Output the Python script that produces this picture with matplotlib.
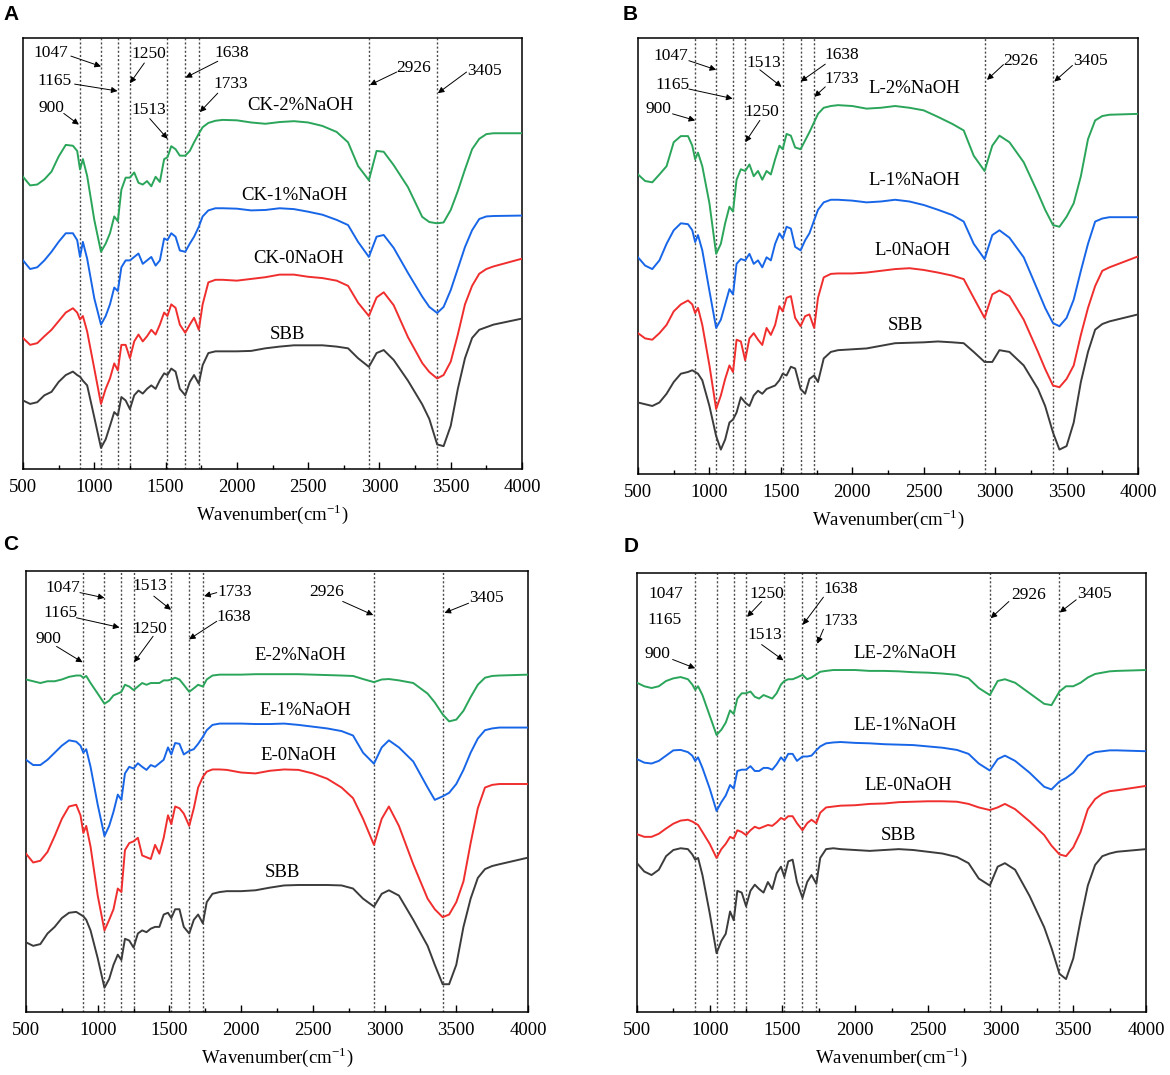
import matplotlib
matplotlib.use('Agg')
import matplotlib.pyplot as plt
from matplotlib.ticker import MultipleLocator

plt.rcParams['font.family'] = ['Liberation Serif', 'DejaVu Serif']
plt.rcParams['mathtext.fontset'] = 'stix'

# shared wavenumber grid (cm-1)
wavenumber = [500, 550, 600, 650, 700, 750, 800, 850, 880, 900,
              920, 950, 1000, 1047, 1080, 1110, 1140, 1165, 1190, 1220,
              1250, 1280, 1310, 1340, 1370, 1400, 1430, 1460, 1490, 1513,
              1540, 1570, 1600, 1638, 1670, 1700, 1733, 1760, 1800, 1850,
              1900, 2000, 2100, 2200, 2300, 2400, 2500, 2600, 2700, 2780,
              2850, 2926, 2980, 3030, 3100, 3200, 3300, 3350, 3405, 3450,
              3500, 3550, 3600, 3650, 3700, 3750, 3800, 4000]

peaks = [900, 1047, 1165, 1250, 1513, 1638, 1733, 2926, 3405]

# ---- panel A (CK)
a_2naoh = [67.8, 65.8, 66.0, 67.2, 69.0, 72.5, 75.2, 75.0, 73.8, 69.5,
           71.9, 68.0, 57.8, 50.4, 52.3, 54.7, 58.6, 57.5, 64.8, 67.6,
           67.6, 68.8, 66.4, 66.0, 66.8, 65.6, 67.8, 66.6, 71.9, 72.3,
           74.9, 74.2, 72.7, 72.7, 73.8, 75.8, 77.8, 79.3, 80.3, 80.8,
           81.0, 80.9, 80.4, 80.1, 80.5, 80.7, 80.4, 79.6, 78.2, 75.8,
           70.3, 67.0, 73.8, 73.6, 70.5, 65.4, 58.5, 57.3, 57.0, 57.2,
           60.1, 64.5, 69.5, 74.2, 76.6, 77.7, 77.9, 77.9]
a_1naoh = [48.4, 46.4, 46.8, 48.4, 50.4, 52.7, 54.7, 54.7, 53.1, 49.2,
           52.7, 48.8, 39.6, 33.5, 35.5, 38.2, 42.1, 41.3, 46.8, 48.4,
           48.4, 49.2, 50.0, 47.6, 48.4, 49.2, 47.2, 48.4, 53.5, 53.1,
           54.7, 53.9, 50.7, 50.4, 52.3, 53.9, 56.2, 58.6, 60.0, 60.5,
           60.5, 60.4, 60.0, 60.1, 60.5, 60.3, 59.7, 59.0, 57.8, 56.6,
           52.7, 49.2, 53.9, 54.3, 51.3, 45.5, 40.0, 37.6, 36.2, 37.6,
           41.5, 46.5, 51.5, 55.4, 58.0, 58.6, 58.7, 58.8]
a_0naoh = [30.4, 28.8, 29.2, 30.8, 32.3, 34.3, 36.3, 37.3, 36.3, 34.7,
           35.5, 31.9, 23.3, 15.1, 18.6, 21.0, 24.5, 22.9, 28.8, 28.8,
           25.7, 29.6, 31.2, 29.6, 30.8, 32.3, 31.2, 33.5, 36.3, 35.5,
           38.2, 37.4, 33.5, 31.6, 33.5, 35.1, 32.3, 38.2, 43.3, 43.9,
           43.9, 43.7, 44.1, 44.5, 45.1, 45.1, 44.6, 44.3, 43.7, 42.5,
           38.6, 35.5, 39.8, 41.0, 38.0, 30.6, 24.6, 22.5, 21.0, 21.8,
           24.9, 31.2, 38.2, 42.5, 45.3, 46.4, 47.0, 48.8]
a_sbb = [15.9, 15.1, 15.5, 17.1, 17.9, 20.2, 21.8, 22.6, 21.8, 21.4,
         20.5, 19.4, 12.0, 4.9, 6.9, 10.0, 13.2, 12.4, 16.7, 15.9,
         13.9, 17.1, 18.2, 17.5, 18.6, 19.4, 18.6, 20.6, 22.2, 21.8,
         23.3, 22.6, 18.6, 17.1, 20.2, 21.8, 19.8, 24.1, 26.9, 27.3,
         27.3, 27.3, 27.4, 28.0, 28.4, 28.7, 28.7, 28.7, 28.4, 28.0,
         25.7, 23.7, 26.9, 27.6, 25.3, 20.5, 15.0, 11.6, 5.7, 5.3,
         10.0, 18.6, 25.7, 30.4, 32.3, 32.9, 33.5, 34.9]

# ---- panel B (L)
b_2naoh = [68.7, 67.2, 66.9, 68.7, 70.6, 76.1, 77.5, 77.5, 75.3, 72.2,
           73.7, 70.6, 62.1, 50.5, 52.8, 57.5, 61.3, 60.2, 67.5, 69.9,
           69.5, 71.0, 68.3, 69.5, 67.5, 69.5, 68.7, 72.2, 75.3, 74.5,
           78.0, 77.6, 74.9, 74.5, 76.5, 78.4, 80.7, 82.6, 84.0, 84.4,
           84.6, 84.4, 83.8, 84.0, 84.4, 84.0, 83.4, 81.9, 80.3, 78.8,
           73.0, 69.5, 75.3, 77.6, 76.1, 71.5, 64.4, 60.6, 57.1, 56.7,
           59.0, 62.1, 68.3, 76.8, 81.1, 82.1, 82.4, 82.6]
b_1naoh = [49.7, 47.8, 47.0, 49.0, 52.8, 55.9, 57.5, 57.3, 55.9, 53.2,
           54.8, 51.3, 42.0, 33.5, 35.4, 38.9, 42.4, 41.2, 48.2, 49.3,
           49.0, 50.5, 48.2, 49.0, 47.4, 49.7, 49.0, 52.8, 55.2, 54.0,
           56.7, 56.3, 52.1, 51.3, 53.6, 55.2, 58.2, 60.6, 62.3, 62.9,
           62.9, 62.7, 62.3, 62.5, 62.9, 62.5, 61.7, 60.6, 59.4, 57.9,
           52.8, 49.3, 54.8, 55.9, 54.2, 49.7, 42.0, 38.1, 34.6, 33.9,
           35.8, 40.0, 46.6, 52.8, 57.9, 58.6, 58.9, 58.9]
b_0naoh = [32.3, 31.1, 30.8, 32.3, 34.2, 37.3, 38.9, 39.8, 38.9, 36.9,
           38.1, 34.2, 24.9, 14.9, 18.0, 21.8, 24.9, 23.4, 30.8, 30.4,
           26.1, 31.1, 32.3, 30.8, 29.6, 33.5, 31.9, 34.2, 38.5, 37.3,
           40.4, 40.8, 35.8, 33.9, 36.2, 36.6, 33.5, 40.4, 45.1, 45.9,
           46.0, 46.0, 46.2, 46.6, 47.0, 47.2, 46.8, 46.2, 45.5, 44.7,
           40.4, 35.8, 41.2, 42.1, 40.8, 35.4, 28.0, 24.1, 20.3, 19.9,
           21.8, 24.9, 31.9, 38.1, 43.1, 46.6, 47.4, 49.9]
b_sbb = [16.4, 16.0, 15.6, 16.4, 18.4, 21.1, 23.0, 23.4, 23.8, 23.4,
         23.0, 21.5, 15.6, 8.7, 5.6, 7.9, 11.8, 12.5, 14.1, 17.6,
         16.4, 15.6, 18.0, 19.1, 18.4, 19.5, 19.9, 20.3, 21.5, 23.0,
         22.6, 24.6, 24.2, 19.5, 18.4, 21.8, 22.6, 21.1, 26.5, 28.0,
         28.4, 28.6, 28.8, 29.4, 30.0, 30.1, 30.2, 30.4, 30.2, 30.0,
         28.0, 25.7, 25.7, 28.4, 28.0, 24.9, 19.5, 15.6, 9.5, 5.6,
         6.4, 11.8, 21.1, 28.0, 33.1, 34.4, 35.0, 36.6]

# ---- panel C (E)
c_2naoh = [75.4, 75.0, 74.6, 75.0, 75.0, 75.4, 76.0, 76.3, 76.3, 75.8,
           76.2, 74.6, 72.2, 69.9, 70.6, 71.8, 72.2, 72.6, 74.2, 73.8,
           73.0, 73.8, 74.6, 74.2, 74.6, 74.6, 74.6, 75.2, 75.2, 75.4,
           75.8, 75.4, 74.2, 72.6, 73.4, 74.2, 73.8, 75.4, 76.3, 76.5,
           76.5, 76.5, 76.6, 76.6, 76.6, 76.6, 76.5, 76.4, 76.3, 76.2,
           75.5, 74.8, 75.4, 75.5, 75.2, 74.6, 72.2, 70.2, 67.5, 65.9,
           66.3, 68.3, 71.4, 74.2, 75.8, 76.2, 76.3, 76.5]
c_1naoh = [57.2, 56.0, 56.0, 57.2, 58.8, 60.4, 61.6, 61.3, 60.4, 58.8,
           59.6, 55.6, 47.0, 39.9, 42.2, 45.4, 49.3, 48.1, 54.1, 55.6,
           55.2, 56.4, 55.6, 54.9, 56.0, 55.6, 56.4, 57.2, 60.0, 58.4,
           61.0, 60.8, 58.4, 59.2, 59.6, 60.8, 62.4, 63.9, 65.1, 65.4,
           65.4, 65.4, 65.3, 65.3, 65.4, 65.1, 64.7, 64.3, 63.7, 62.7,
           58.8, 56.3, 60.0, 61.6, 60.0, 56.8, 50.9, 48.1, 48.9, 49.7,
           51.7, 54.9, 58.8, 62.0, 63.9, 64.3, 64.5, 64.5]
c_0naoh = [35.9, 33.9, 34.3, 36.3, 39.9, 43.8, 46.6, 47.0, 44.6, 40.6,
           42.2, 37.5, 26.4, 18.5, 20.9, 23.3, 28.0, 27.2, 36.7, 38.3,
           38.7, 39.5, 35.5, 35.1, 34.7, 37.9, 35.9, 39.5, 44.6, 42.6,
           46.6, 46.2, 45.0, 42.2, 46.2, 50.9, 53.3, 54.5, 55.0, 55.0,
           54.9, 54.3, 54.1, 54.7, 55.0, 54.9, 54.1, 52.9, 50.9, 48.5,
           43.8, 37.9, 43.8, 46.6, 42.2, 33.5, 25.7, 23.3, 21.5, 22.1,
           24.9, 29.6, 38.3, 46.2, 50.9, 51.5, 51.7, 51.7]
c_sbb = [15.8, 15.0, 15.4, 17.8, 19.3, 21.3, 22.5, 22.7, 22.1, 21.7,
         20.9, 18.5, 12.2, 5.5, 7.5, 10.7, 13.0, 11.8, 16.6, 16.2,
         14.6, 17.8, 18.5, 18.1, 18.9, 19.3, 19.3, 22.1, 22.5, 21.3,
         23.3, 23.3, 19.3, 17.8, 20.9, 22.1, 20.1, 24.9, 26.8, 27.2,
         27.4, 27.4, 27.6, 28.2, 28.7, 28.8, 28.8, 28.8, 28.7, 28.0,
         25.7, 23.9, 26.8, 27.6, 26.4, 20.9, 15.0, 10.7, 6.3, 6.3,
         10.7, 19.3, 25.7, 30.4, 32.4, 33.1, 33.5, 35.0]

# ---- panel D (LE)
d_2naoh = [75.0, 74.2, 73.8, 74.2, 75.4, 76.0, 76.3, 75.8, 74.6, 73.4,
           74.2, 72.2, 67.5, 63.1, 64.3, 65.9, 68.7, 67.9, 71.4, 72.6,
           72.6, 73.0, 71.8, 71.4, 72.2, 71.8, 71.4, 72.6, 74.6, 75.4,
           75.8, 75.8, 76.2, 76.8, 75.8, 76.2, 76.9, 77.5, 77.7, 77.9,
           77.9, 77.9, 77.7, 77.7, 77.6, 77.4, 77.3, 77.1, 76.8, 76.0,
           73.8, 72.2, 75.4, 75.8, 75.0, 72.6, 70.2, 69.9, 73.0, 74.2,
           74.2, 75.0, 76.2, 77.0, 77.3, 77.6, 77.7, 77.9]
d_1naoh = [57.6, 56.8, 56.6, 57.2, 58.4, 59.6, 59.7, 59.2, 58.4, 57.2,
           58.0, 55.6, 50.9, 45.8, 47.8, 49.3, 51.7, 50.9, 54.9, 55.2,
           55.2, 56.0, 54.9, 54.9, 55.6, 55.6, 55.2, 56.4, 58.0, 57.2,
           58.8, 58.8, 57.2, 58.2, 58.2, 58.4, 59.6, 60.5, 61.2, 61.4,
           61.5, 61.3, 61.2, 61.0, 60.9, 60.8, 60.5, 60.2, 59.7, 58.8,
           56.6, 55.0, 57.6, 58.4, 57.2, 54.5, 51.3, 50.7, 52.5, 53.3,
           54.5, 56.4, 58.4, 59.2, 59.4, 59.6, 59.6, 59.4]
d_0naoh = [40.5, 39.9, 39.9, 40.6, 41.8, 42.9, 43.6, 43.8, 43.4, 43.0,
           42.6, 41.0, 38.3, 35.1, 37.1, 38.3, 39.9, 39.5, 41.4, 41.0,
           40.3, 41.4, 42.2, 41.8, 42.2, 42.6, 42.4, 43.2, 44.2, 43.8,
           44.6, 44.6, 43.0, 41.4, 43.0, 43.8, 43.0, 45.4, 46.6, 46.8,
           47.0, 47.1, 47.4, 47.5, 47.8, 47.9, 48.0, 48.0, 47.9, 47.4,
           46.6, 46.0, 46.6, 47.4, 46.2, 43.4, 40.3, 37.9, 35.9, 35.5,
           37.5, 41.0, 46.2, 48.5, 49.7, 50.3, 50.5, 51.5]
d_sbb = [33.9, 32.0, 31.2, 32.4, 35.5, 36.9, 37.3, 37.1, 35.9, 34.7,
         35.1, 31.2, 22.5, 13.4, 16.2, 17.8, 22.9, 20.9, 27.6, 27.2,
         24.1, 27.6, 29.0, 28.0, 27.2, 29.6, 28.0, 31.6, 33.1, 30.8,
         34.3, 34.7, 29.6, 26.0, 29.6, 31.2, 29.2, 35.1, 37.1, 37.3,
         37.1, 36.9, 36.7, 36.9, 37.1, 36.9, 36.5, 36.1, 35.3, 33.9,
         30.4, 28.8, 33.1, 33.9, 32.4, 26.4, 19.3, 14.6, 8.7, 7.5,
         12.2, 20.9, 28.8, 33.5, 35.5, 36.1, 36.5, 37.1]

colors = ['#2aa55a', '#1866e8', '#f02e2e', '#3c3c3c']

# label, text x, text y, arrow (start x, start y, tip x, tip y) or None
notes_a = [('1047', 698, 96.6, (836, 95.8, 1047, 93.4)),
           ('1165', 723, 90.1, (862, 89.3, 1163, 87.7)),
           ('900', 698, 83.8, (786, 82.5, 892, 79.9)),
           ('1250', 1384, 96.3, (1351, 94.2, 1250, 89.5)),
           ('1513', 1384, 83.2, (1389, 81.3, 1514, 76.6)),
           ('1638', 1966, 96.6, (1866, 94.6, 1640, 90.8)),
           ('1733', 1954, 89.3, (1866, 87.2, 1740, 82.8)),
           ('2926', 3242, 93.0, (3121, 92.1, 2933, 89.1)),
           ('3405', 3736, 92.4, (3611, 92.1, 3410, 87.2))]
notes_b = [('1047', 729, 95.8, (856, 94.8, 1047, 92.7)),
           ('1165', 742, 89.2, (856, 88.3, 1162, 86.1)),
           ('900', 640, 83.8, (742, 82.6, 900, 81.1)),
           ('1513', 1378, 94.3, (1353, 92.7, 1505, 88.8)),
           ('1638', 1925, 96.0, (1811, 94.0, 1638, 90.0)),
           ('1733', 1925, 90.6, (1811, 88.8, 1734, 86.5)),
           ('1250', 1365, 83.0, (1353, 81.1, 1251, 76.1)),
           ('2926', 3180, 94.8, (3058, 93.9, 2943, 90.4)),
           ('3405', 3669, 94.7, (3541, 93.7, 3414, 90.0))]
notes_c = [('1047', 758, 96.1, (876, 95.1, 1047, 93.9)),
           ('1165', 738, 90.4, (851, 89.4, 1152, 87.2)),
           ('900', 658, 84.5, (713, 82.9, 894, 79.3)),
           ('1513', 1366, 96.7, (1391, 94.3, 1511, 91.2)),
           ('1250', 1366, 86.8, (1386, 85.2, 1253, 79.3)),
           ('1733', 1955, 95.3, (1830, 95.1, 1742, 94.3)),
           ('1638', 1948, 89.6, (1830, 88.6, 1637, 84.5)),
           ('2926', 2595, 95.3, (2708, 93.1, 2921, 90.0)),
           ('3405', 3712, 93.9, (3586, 92.7, 3418, 90.5))]
notes_d = [('1047', 695, 95.3, None),
           ('1165', 690, 89.2, None),
           ('900', 640, 81.5, (745, 80.3, 900, 78.3)),
           ('1250', 1395, 95.3, (1357, 93.5, 1257, 90.0)),
           ('1513', 1382, 85.8, (1357, 83.7, 1507, 80.1)),
           ('1638', 1900, 96.3, (1782, 94.5, 1640, 88.2)),
           ('1733', 1900, 89.0, (1782, 87.2, 1740, 83.9)),
           ('2926', 3190, 95.1, (3057, 93.5, 2932, 89.7)),
           ('3405', 3645, 95.3, (3520, 93.9, 3407, 91.0))]

panels = [
    ('A', [23, 469, 499, 431], (11, 15),
     [a_2naoh, a_1naoh, a_0naoh, a_sbb],
     [('CK-2%NaOH', 2443, 84.4), ('CK-1%NaOH', 2406, 63.4),
      ('CK-0NaOH', 2431, 48.8), ('SBB', 2355, 31.3)], notes_a),
    ('B', [638, 474, 500, 436], (630, 15),
     [b_2naoh, b_1naoh, b_0naoh, b_sbb],
     [('L-2%NaOH', 2434, 88.5), ('L-1%NaOH', 2434, 67.4),
      ('L-0NaOH', 2421, 51.3), ('SBB', 2371, 34.1)], notes_b),
    ('C', [26, 1012, 502, 441], (11, 545),
     [c_2naoh, c_1naoh, c_0naoh, c_sbb],
     [('E-2%NaOH', 2414, 80.9), ('E-1%NaOH', 2450, 68.3),
      ('E-0NaOH', 2399, 58.2), ('SBB', 2289, 31.6)], notes_c),
    ('D', [637, 1012, 509, 439], (631, 546),
     [d_2naoh, d_1naoh, d_0naoh, d_sbb],
     [('LE-2%NaOH', 2340, 81.7), ('LE-1%NaOH', 2345, 65.3),
      ('LE-0NaOH', 2365, 51.7), ('SBB', 2300, 40.3)], notes_d),
]

W, H = 1170, 1075
fig = plt.figure(figsize=(W / 100, H / 100), dpi=100)

for letter, (left, bottom, w, h), (lx, ly), series, names, notes in panels:
    ax = fig.add_axes([left / W, 1 - bottom / H, w / W, h / H])
    for p in peaks:
        ax.axvline(p, color='#4a4a4a', lw=1.0, ls=(0, (1.5, 1.5)), zorder=1)
    for s, c in zip(series, colors):
        ax.plot(wavenumber, s, color=c, lw=1.4, zorder=3)
    for name, x, y in names:
        ax.text(x, y, name, fontsize=13.5, ha='center', va='center')
    for lab, tx, ty, arr in notes:
        ax.text(tx, ty, lab, fontsize=12.5, ha='center', va='center')
        if arr is not None:
            ax.annotate('', xy=(arr[2], arr[3]), xytext=(arr[0], arr[1]),
                        arrowprops=dict(arrowstyle='-|>', color='black', lw=0.7,
                                        mutation_scale=9, shrinkA=0, shrinkB=0))
    ax.set_xlim(500, 4000)
    ax.set_ylim(0, 100)
    ax.set_yticks([])
    ax.xaxis.set_major_locator(MultipleLocator(500))
    ax.xaxis.set_minor_locator(MultipleLocator(250))
    ax.tick_params(axis='x', which='major', direction='in', length=5, width=1,
                   labelsize=13.5, pad=7)
    ax.tick_params(axis='x', which='minor', direction='in', length=3, width=1)
    for sp in ax.spines.values():
        sp.set_linewidth(1.1)
    ax.set_xlabel('Wavenumber(cm$^{\\mathregular{-1}}$)', fontsize=13.5, labelpad=5)
    fig.text(lx / W, 1 - ly / H, letter, fontsize=15, fontweight='bold',
             family='Liberation Sans', ha='center', va='center')

fig.savefig('out.png', dpi=100)
